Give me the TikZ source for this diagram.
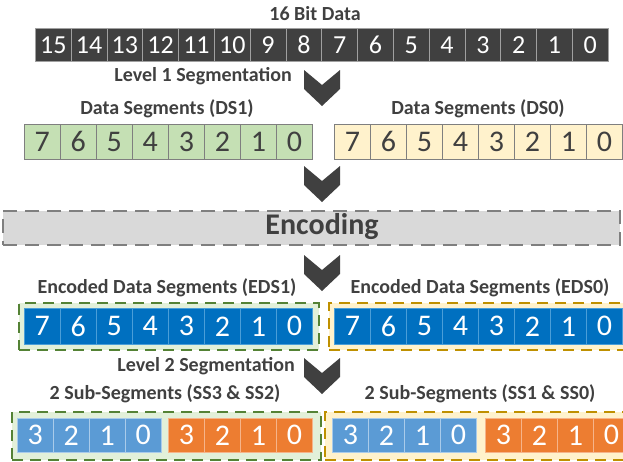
\documentclass[tikz,border=0pt]{standalone}
\usepackage{fontspec}
\setmainfont{Carlito}
\definecolor{ink}{HTML}{404040}
\definecolor{darkcell}{HTML}{404040}
\definecolor{darksep}{HTML}{A0A0A0}
\definecolor{greencell}{HTML}{C5E0B4}
\definecolor{yellowcell}{HTML}{FFF2CC}
\definecolor{cellrule}{HTML}{7F7F7F}
\definecolor{encfill}{HTML}{D9D9D9}
\definecolor{blue}{HTML}{0070C0}
\definecolor{bluesep}{HTML}{4A9ED8}
\definecolor{lightblue}{HTML}{5B9BD5}
\definecolor{lightbluesep}{HTML}{A9CBEA}
\definecolor{orange}{HTML}{ED7D31}
\definecolor{orangesep}{HTML}{F6B48A}
\definecolor{greenbox}{HTML}{E2F0D9}
\definecolor{greenrule}{HTML}{548235}
\definecolor{yellowbox}{HTML}{FFF2CC}
\definecolor{yellowrule}{HTML}{BF9000}
\tikzset{
  cell/.style={anchor=north west, inner sep=0pt, minimum width=36pt,
    minimum height=35pt, line width=0.7pt, font=\fontsize{30}{30}\selectfont},
  bitcell/.style={cell, fill=darkcell, draw=darksep, text=white,
    minimum width=35.8pt, minimum height=33pt, font=\fontsize{26}{26}\selectfont},
  dscell1/.style={cell, fill=greencell, draw=cellrule, text=ink},
  dscell0/.style={cell, fill=yellowcell, draw=cellrule, text=ink},
  edscell/.style={cell, fill=blue, draw=bluesep, text=white, minimum height=36pt},
  sshi/.style={cell, fill=lightblue, draw=lightbluesep, text=white, minimum height=34pt},
  sslo/.style={cell, fill=orange, draw=orangesep, text=white, minimum height=34pt},
  label/.style={text=ink, inner sep=0pt, font=\bfseries\fontsize{20}{20}\selectfont},
  greenframe/.style={fill=greenbox, draw=greenrule, line width=2.2pt, dash pattern=on 11pt off 7pt},
  yellowframe/.style={fill=yellowbox, draw=yellowrule, line width=2.2pt, dash pattern=on 11pt off 7pt},
  chevron/.pic={\fill[ink] (-18,0) -- (0,15) -- (18,0) -- (18,19) -- (0,36) -- (-18,19) -- cycle;}
}
\begin{document}
\begin{tikzpicture}[x=1pt, y=-1pt]
\useasboundingbox (0,0) rectangle (623,461);

% 16 bit word
\node[label] (title) at (315,14) {16 Bit Data};
\foreach \i [evaluate=\i as \v using int(15-\i)] in {0,...,15}
  \node[bitcell] (bit\v) at (35+\i*35.8,28) {\v};

% level 1 segmentation
\node[label, anchor=east] (lvl1) at (292,76) {Level 1 Segmentation};
\pic at (322,70) {chevron};

\node[label] (ds1lbl) at (167,109) {Data Segments (DS1)};
\node[label] (ds0lbl) at (478,109) {Data Segments (DS0)};
\foreach \i [evaluate=\i as \v using int(7-\i)] in {0,...,7} {
  \node[dscell1] (dsa\v) at (24+\i*36,124) {\v};
  \node[dscell0] (dsb\v) at (334+\i*36,124) {\v};
}

\pic at (322,166) {chevron};

% encoding stage
\node[draw=cellrule, fill=encfill, line width=2pt, dash pattern=on 14pt off 8pt,
  minimum width=617pt, minimum height=34pt, inner sep=0pt, anchor=north west] (enc) at (2,210) {};
\node[text=ink, inner sep=0pt, font=\bfseries\fontsize{30}{30}\selectfont] (enctext) at (322,227) {Encoding};

\pic at (322,255) {chevron};

% encoded segments
\node[label] (eds1lbl) at (167,288) {Encoded Data Segments (EDS1)};
\node[label] (eds0lbl) at (480,288) {Encoded Data Segments (EDS0)};
\node[greenframe, anchor=north west, minimum width=300pt, minimum height=47pt] (eds1box) at (18,302) {};
\node[yellowframe, anchor=north west, minimum width=302pt, minimum height=47pt] (eds0box) at (328,302) {};
\foreach \i [evaluate=\i as \v using int(7-\i)] in {0,...,7} {
  \node[edscell] (edsa\v) at (24+\i*36,308) {\v};
  \node[edscell] (edsb\v) at (334+\i*36,308) {\v};
}

% level 2 segmentation
\node[label, anchor=east] (lvl2) at (295,366) {Level 2 Segmentation};
\pic at (322,358) {chevron};

\node[label] (ss32lbl) at (165,394) {2 Sub-Segments (SS3 \& SS2)};
\node[label] (ss10lbl) at (480,394) {2 Sub-Segments (SS1 \& SS0)};
\node[greenframe, anchor=north west, minimum width=309pt, minimum height=48pt] (ssabox) at (11,411) {};
\node[yellowframe, anchor=north west, minimum width=310pt, minimum height=48pt] (ssbbox) at (324,411) {};
\foreach \i [evaluate=\i as \v using int(3-\i)] in {0,...,3} {
  \node[sshi] (ss3\v) at (17+\i*36,418) {\v};
  \node[sslo] (ss2\v) at (168+\i*36,418) {\v};
  \node[sshi] (ss1\v) at (332+\i*36,418) {\v};
  \node[sslo] (ss0\v) at (485+\i*36,418) {\v};
}
\end{tikzpicture}
\end{document}
